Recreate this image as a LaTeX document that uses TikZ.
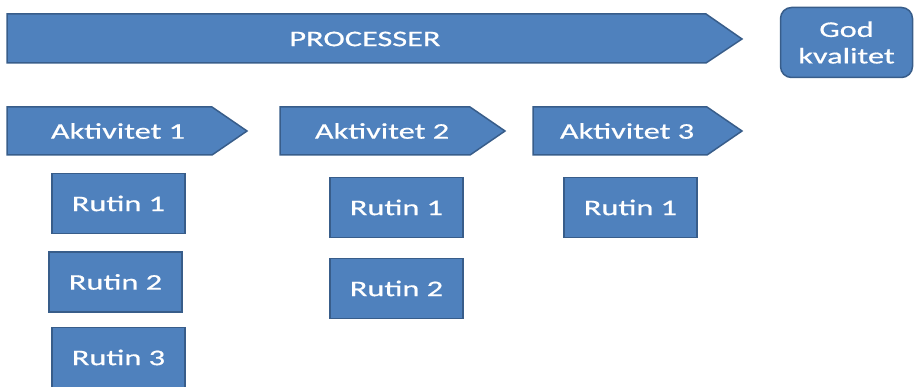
\documentclass[tikz,border=0pt]{standalone}
\usepackage{fontspec}
\setmainfont[FakeStretch=1.45,FakeBold=0.6]{Carlito}
\definecolor{boxfill}{HTML}{4F81BD}
\definecolor{boxline}{HTML}{385D8A}
\begin{document}
\begin{tikzpicture}[x=1pt,y=-1pt,
  shapestyle/.style={fill=boxfill, draw=boxline, line width=1.5pt, line join=miter},
  lbl/.style={text=white, font=\fontsize{22.3}{26.5}\selectfont, align=center, inner sep=0pt},
  rutin/.style={shapestyle, lbl, minimum width=133pt, minimum height=60pt}]
\useasboundingbox (0,0) rectangle (917,387);
% Processer arrow
\draw[shapestyle] (7,14) -- (706,14) -- (742,39) -- (706,63) -- (7,63) -- cycle;
\node[lbl] (proc) at (365,39) {PROCESSER};
% God kvalitet
\node[shapestyle, lbl, rounded corners=11pt, minimum width=132pt, minimum height=70pt] (god) at (846.5,42.5) {God\\kvalitet};
% Activities
\draw[shapestyle] (7,107) -- (212,107) -- (247,131) -- (212,155) -- (7,155) -- cycle;
\node[lbl] (a1) at (118,131) {Aktivitet 1};
\draw[shapestyle] (280,107) -- (470,107) -- (505,131) -- (470,155) -- (280,155) -- cycle;
\node[lbl] (a2) at (382,131) {Aktivitet 2};
\draw[shapestyle] (533,107) -- (707,107) -- (742,131) -- (707,155) -- (533,155) -- cycle;
\node[lbl] (a3) at (627,131) {Aktivitet 3};
% Rutiner
\node[rutin] (r11) at (118.5,203.5) {Rutin 1};
\node[rutin] (r12) at (115.5,282) {Rutin 2};
\node[rutin] (r13) at (118.5,357.5) {Rutin 3};
\node[rutin] (r21) at (396.5,207.5) {Rutin 1};
\node[rutin] (r22) at (396.5,288.5) {Rutin 2};
\node[rutin] (r31) at (630.5,207.5) {Rutin 1};
\end{tikzpicture}
\end{document}
